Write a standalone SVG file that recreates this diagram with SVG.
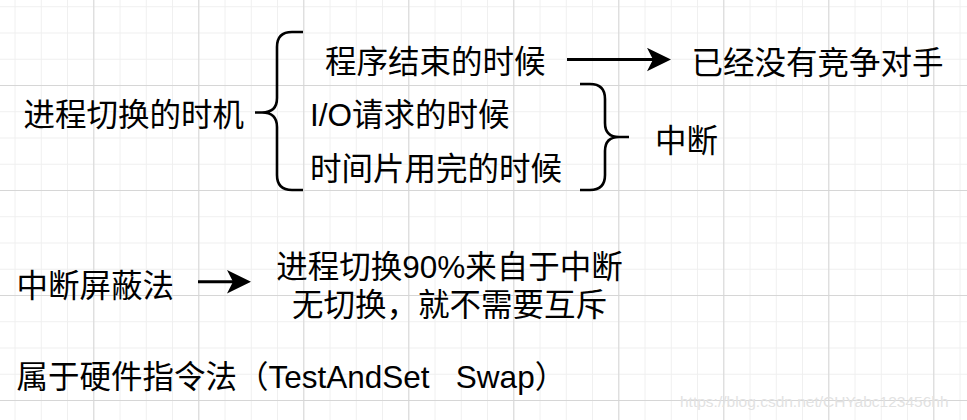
<svg xmlns="http://www.w3.org/2000/svg" width="967" height="420" viewBox="0 0 967 420">
<style>
  .t { font-family: "Liberation Sans", "Noto Sans CJK SC", sans-serif; font-size: 31.5px; fill: #000; white-space: pre; }
  .wm { font-family: "Liberation Sans", sans-serif; font-size: 15.5px; fill: #e2e2e2; }
  .br { fill: none; stroke: #000; stroke-width: 2.6; stroke-linejoin: round; }
  .ar { fill: none; stroke: #000; stroke-width: 3; }
</style>
<defs>
  <pattern id="minor" x="14.55" y="6.25" width="26.25" height="26.25" patternUnits="userSpaceOnUse">
    <path d="M0.5,0 V26.25 M0,0.5 H26.25" stroke="#efefef" stroke-width="1" fill="none"/>
  </pattern>
  <pattern id="major" x="93.3" y="85" width="105" height="105" patternUnits="userSpaceOnUse">
    <path d="M0.5,0 V105 M0,0.5 H105" stroke="#d6d6d6" stroke-width="1" fill="none"/>
  </pattern>
  <marker id="arrow" markerUnits="userSpaceOnUse" markerWidth="25" markerHeight="24" viewBox="0 0 25 24" refX="6" refY="12" orient="auto">
    <path d="M0,0.3 L24,12 L0,23.7 L6,12 Z" fill="#000"/>
  </marker>
</defs>
<rect width="967" height="420" fill="#fff"/>
<rect width="967" height="420" fill="url(#minor)"/>
<rect width="967" height="420" fill="url(#major)"/>

<g id="connectors">
  <path class="br" d="M303,32 L292,32 Q277,32 277,47 L277,98 Q277,112.5 262,112.5 L255,112.5 M262,112.5 Q277,112.5 277,127 L277,175 Q277,190 292,190 L303,190"/>
  <path class="br" d="M580,84 L590,84 Q605,84 605,99 L605,123 Q605,137 619,137 L629,137 M619,137 Q605,137 605,151 L605,175 Q605,190 590,190 L580,190"/>
  <path class="ar" d="M567,59.5 L653,59.5" marker-end="url(#arrow)"/>
  <path class="ar" d="M198,281.7 L233,281.7" marker-end="url(#arrow)"/>
</g>

<g id="n-timing"><text class="t" x="23.5" y="126">进程切换的时机</text></g>
<g id="n-end"><text class="t" x="325" y="73">程序结束的时候</text></g>
<g id="n-nocompete"><text class="t" x="691.5" y="73.5">已经没有竞争对手</text></g>
<g id="n-io"><text class="t" x="310" y="126">I/O请求的时候</text></g>
<g id="n-slice"><text class="t" x="310" y="179.5">时间片用完的时候</text></g>
<g id="n-interrupt"><text class="t" x="655" y="152">中断</text></g>
<g id="n-mask"><text class="t" x="16.5" y="297">中断屏蔽法</text></g>
<g id="n-reason">
  <text class="t" x="449.5" y="278" text-anchor="middle">进程切换90%来自于中断</text>
  <text class="t" x="449.5" y="316" text-anchor="middle">无切换，就不需要互斥</text>
</g>
<g id="n-hw"><text class="t" x="16.5" y="388">属于硬件指令法（TestAndSet   Swap）</text></g>
<text class="wm" x="680" y="407">https://blog.csdn.net/CHYabc123456hh</text>
</svg>
